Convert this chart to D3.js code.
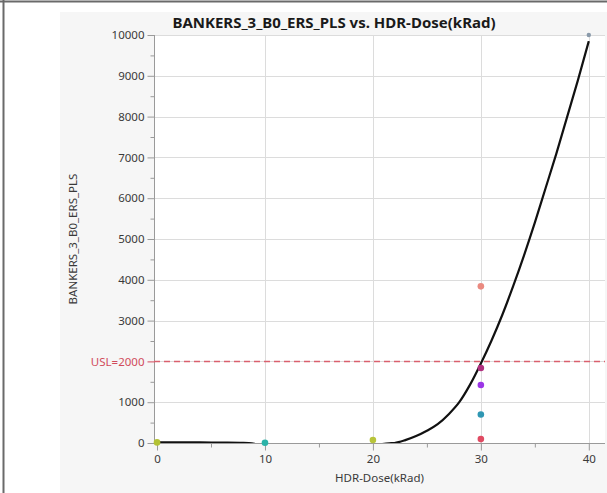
<!DOCTYPE html>
<html>
<head>
<meta charset="utf-8">
<script src="https://cdn.jsdelivr.net/npm/d3@7"></script>
<style>
  html, body { margin: 0; padding: 0; background: #fff; }
  svg { display: block; font-family: "Noto Sans", "Open Sans", sans-serif; }
</style>
</head>
<body>
<svg id="chart" width="607" height="493"></svg>
<script>
// Measurements: dose (kRad) and response per part
const doseValues = [0, 10, 20, 30, 30, 30, 30, 30, 40];
const responseValues = [15, 5, 75, 3840, 1840, 1420, 700, 95, 10000];
const pointColors = ["#b3c234", "#2bb3a8", "#b8c43a", "#ea8a80", "#b0307f", "#9b35e6", "#2f97b3", "#e04a62", "#8a9aaa"];

// Fitted trend curve (dose, response); values below 0 fall outside the plot
const fitDose = [0, 2, 4, 6, 8, 8.5, 10, 12, 15, 18, 20, 21.5, 22, 23, 24, 25, 26, 27, 28, 29, 30, 31, 32, 33, 34, 35, 36, 37, 38, 39, 40];
const fitResponse = [18, 16, 13, 9, 3, -5, -60, -150, -220, -150, -60, -8, 0, 70, 170, 300, 460, 700, 1000, 1430, 1950, 2520, 3150, 3850, 4600, 5400, 6250, 7100, 8000, 8900, 9850];

const yTicks = [0, 1000, 2000, 3000, 4000, 5000, 6000, 7000, 8000, 9000, 10000];
const xTicks = [0, 10, 20, 30, 40];
const uslValue = 2000;
const uslLabel = "USL=2000";

const titleText = "BANKERS_3_B0_ERS_PLS vs. HDR-Dose(kRad)";
const yLabelText = "BANKERS_3_B0_ERS_PLS";
const xLabelText = "HDR-Dose(kRad)";

const svg = d3.select("#chart");
const W = 607, H = 493;
const plot = { left: 154, right: 605, top: 35, bottom: 443 };

// Outer frame (top and left edges) and the light report panel
svg.append("rect").attr("x", 60).attr("y", 12).attr("width", W - 60).attr("height", H - 12).attr("fill", "#f6f6f6");
svg.append("line").attr("x1", 0).attr("x2", W).attr("y1", 1.5).attr("y2", 1.5).attr("stroke", "#6a6a6a").attr("stroke-width", 2);
svg.append("line").attr("x1", 3.5).attr("x2", 3.5).attr("y1", 0).attr("y2", H).attr("stroke", "#6a6a6a").attr("stroke-width", 2);

const x = d3.scaleLinear().domain([-0.28, 41.5]).range([plot.left, plot.right]);
const y = d3.scaleLinear().domain([0, 10000]).range([plot.bottom, plot.top]);

svg.append("rect").attr("x", plot.left).attr("y", plot.top)
  .attr("width", plot.right - plot.left).attr("height", plot.bottom - plot.top).attr("fill", "#fff");

svg.append("defs").append("clipPath").attr("id", "plotClip")
  .append("rect").attr("x", plot.left).attr("y", plot.top - 4)
  .attr("width", plot.right - plot.left).attr("height", plot.bottom - plot.top + 4);

// Grid lines
const grid = svg.append("g").attr("stroke", "#dcdcdc").attr("stroke-width", 1);
grid.selectAll(".gy").data(yTicks.filter(d => d > 0)).join("line")
  .attr("x1", plot.left).attr("x2", plot.right)
  .attr("y1", d => Math.round(y(d)) + 0.5).attr("y2", d => Math.round(y(d)) + 0.5);
grid.selectAll(".gx").data(xTicks.filter(d => d > 0)).join("line")
  .attr("y1", plot.top).attr("y2", plot.bottom)
  .attr("x1", d => Math.round(x(d)) + 0.5).attr("x2", d => Math.round(x(d)) + 0.5);

// Axes
const axisColor = "#9a9a9a";
const textColor = "#3a3a3a";
const yMinor = d3.range(500, 10000, 1000);
const xMinor = [5, 15, 25, 35];

const yAxis = svg.append("g").attr("transform", `translate(${plot.left + 0.5},0)`)
  .call(d3.axisLeft(y).tickValues(yTicks).tickSize(7).tickPadding(3)
    .tickFormat(d => d === uslValue ? uslLabel : d));
const yAxisMinor = svg.append("g").attr("transform", `translate(${plot.left + 0.5},0)`)
  .call(d3.axisLeft(y).tickValues(yMinor).tickSize(4).tickFormat(""));
const xAxis = svg.append("g").attr("transform", `translate(0,${plot.bottom + 0.5})`)
  .call(d3.axisBottom(x).tickValues(xTicks).tickSize(7).tickPadding(4));
const xAxisMinor = svg.append("g").attr("transform", `translate(0,${plot.bottom + 0.5})`)
  .call(d3.axisBottom(x).tickValues(xMinor).tickSize(4).tickFormat(""));

[yAxis, yAxisMinor, xAxis, xAxisMinor].forEach(g => {
  g.select(".domain").attr("stroke", axisColor);
  g.selectAll(".tick line").attr("stroke", axisColor);
  g.selectAll(".tick text").attr("fill", textColor).attr("font-size", 11.5)
    .attr("font-family", "'Noto Sans', 'Open Sans', sans-serif");
});
yAxis.select(".domain").attr("d", `M0,${plot.top}V${plot.bottom}`);
xAxis.select(".domain").attr("d", `M${plot.left},0H${plot.right}`);
yAxisMinor.select(".domain").remove();
xAxisMinor.select(".domain").remove();
yAxis.selectAll(".tick").filter(d => d === uslValue).select("text").attr("fill", "#d14b5c");
yAxis.selectAll(".tick").filter(d => d === uslValue).select("line").attr("stroke", "#d14b5c");

// Specification limit
svg.append("line")
  .attr("x1", plot.left).attr("x2", plot.right)
  .attr("y1", y(uslValue)).attr("y2", y(uslValue))
  .attr("stroke", "#d9606e").attr("stroke-width", 1.5).attr("stroke-dasharray", "6,4");

// Trend curve
const line = d3.line().x((d, i) => x(fitDose[i])).y(d => y(d)).curve(d3.curveMonotoneX);
svg.append("path").datum(fitResponse)
  .attr("clip-path", "url(#plotClip)")
  .attr("d", line).attr("fill", "none").attr("stroke", "#111").attr("stroke-width", 2.2);

// Measured points
svg.append("g").selectAll("circle").data(doseValues).join("circle")
  .attr("cx", d => x(d)).attr("cy", (d, i) => y(responseValues[i]))
  .attr("r", (d, i) => i === doseValues.length - 1 ? 2.2 : 3.3)
  .attr("fill", (d, i) => pointColors[i]);

// Titles
svg.append("text").attr("x", 334).attr("y", 28)
  .attr("text-anchor", "middle").attr("font-size", 15).attr("font-weight", "bold")
  .attr("fill", "#1a1a1a").text(titleText);
svg.append("text").attr("transform", `translate(77,${(plot.top + plot.bottom) / 2}) rotate(-90)`)
  .attr("text-anchor", "middle").attr("font-size", 11.5).attr("fill", textColor).text(yLabelText);
svg.append("text").attr("x", (plot.left + plot.right) / 2).attr("y", 482)
  .attr("text-anchor", "middle").attr("font-size", 11.5).attr("fill", textColor).text(xLabelText);
</script>
</body>
</html>
